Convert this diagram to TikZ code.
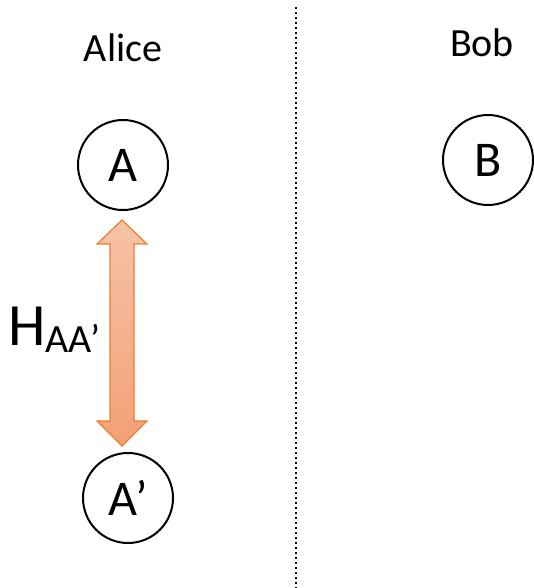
\documentclass[tikz,border=0pt]{standalone}
\usepackage{fontspec}
\setmainfont{Carlito}
\definecolor{arrowline}{HTML}{ED7D31}
\definecolor{arrowtop}{HTML}{F6C3A8}
\definecolor{arrowbot}{HTML}{F3A076}
\begin{document}
\begin{tikzpicture}[x=1pt,y=-1pt,
  party/.style={font=\fontsize{40}{44}\selectfont, anchor=base, inner sep=0pt},
  qubit/.style={circle, draw=black, line width=2pt, minimum size=90pt, inner sep=0pt, font=\fontsize{50}{54}\selectfont}]
\useasboundingbox (0,0) rectangle (533,588);
\node[party] (alice) at (123,62) {Alice};
\node[party] (bob) at (482,57) {Bob};
\node[qubit] (A) at (123,165) {A};
\node[qubit] (B) at (488,160) {B};
\node[qubit] (Ap) at (128,498) {A’};
\coordinate (top) at (122,220);
\coordinate (bot) at (122,446);
\shade[top color=arrowtop, bottom color=arrowbot, draw=arrowline, line width=1.2pt, line join=miter]
  (top) -- (147,244) -- (134,244) -- (134,421) -- (147,421) -- (bot) -- (97,421) -- (110,421) -- (110,244) -- (97,244) -- cycle;
\node[anchor=base west, inner sep=0pt, font=\fontsize{60}{62}\selectfont] (H) at (8,345) {H\raisebox{-7pt}{\fontsize{40}{44}\selectfont AA’}};
\coordinate (d1) at (296,7);
\coordinate (d2) at (296,588);
\draw[line width=2pt, dash pattern=on 2pt off 3pt] (d1) -- (d2);
\end{tikzpicture}
\end{document}
